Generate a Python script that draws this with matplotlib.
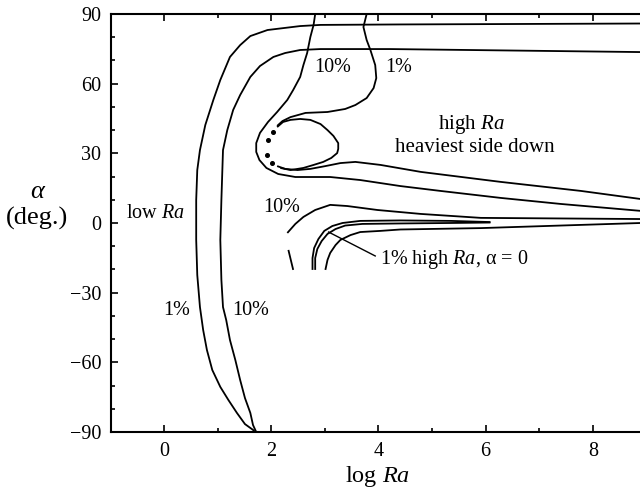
import matplotlib
matplotlib.use("Agg")
import matplotlib.pyplot as plt
from matplotlib.ticker import MultipleLocator

#Fuente tipo Times
plt.rcParams['font.family'] = ['Liberation Serif', 'DejaVu Serif']
plt.rcParams['mathtext.fontset'] = 'custom'
plt.rcParams['mathtext.rm'] = 'Liberation Serif'
plt.rcParams['mathtext.it'] = 'Liberation Serif:italic'

#Curvas (log Ra, alpha en grados)
low1_x = [1.70, 1.66, 1.51, 1.36, 1.20, 1.05, 0.90, 0.80, 0.73, 0.67, 0.62, 0.60, 0.60, 0.62,
          0.67, 0.77, 0.92, 1.05, 1.23, 1.42, 1.61, 1.93, 2.54, 2.92, 4.41, 8.90]
low1_y = [-90.0, -89.1, -86.6, -81.8, -76.2, -70.6, -63.3, -54.7, -46.1, -36.2, -22.4, -7.3, 9.9, 22.8,
          31.4, 42.2, 53.0, 61.6, 71.5, 76.6, 80.5, 83.1, 84.8, 85.3, 85.5, 85.9]

low10_x = [1.72, 1.66, 1.61, 1.51, 1.42, 1.33, 1.23, 1.16, 1.10, 1.07, 1.05, 1.07, 1.10, 1.18,
           1.29, 1.42, 1.61, 1.79, 2.04, 2.26, 2.54, 2.92, 4.22, 8.90]
low10_y = [-90.0, -87.0, -81.8, -75.4, -67.6, -59.0, -50.4, -41.8, -36.2, -24.5, -7.3, 9.9, 31.4, 40.0,
           48.7, 55.1, 62.9, 67.6, 71.5, 73.2, 74.5, 74.9, 74.9, 73.6]

#10%: baja desde arriba, rodea la gota y sigue a la derecha
s10_x = [2.82, 2.79, 2.73, 2.67, 2.60, 2.54, 2.41, 2.30, 2.11, 1.94, 1.79, 1.72, 1.72, 1.78,
         1.91, 2.13, 2.45, 3.10, 3.66, 4.41, 5.16, 6.28, 7.40, 8.90]
s10_y = [90.0, 85.3, 80.1, 73.2, 68.0, 62.9, 57.3, 53.0, 47.8, 43.5, 38.8, 34.4, 30.6, 27.1,
         23.7, 21.1, 19.8, 19.8, 18.5, 15.9, 13.8, 10.8, 8.2, 5.2]

#1%: baja desde arriba hasta la punta de la gota
s1_x = [3.78, 3.72, 3.78, 3.85, 3.94, 3.96, 3.91, 3.78, 3.57, 3.38, 3.05, 2.64, 2.36, 2.21, 2.11]
s1_y = [90.0, 84.4, 78.8, 74.5, 68.0, 62.4, 58.1, 53.8, 50.8, 49.1, 47.8, 47.4, 45.6, 43.9, 41.8]

drop_x = [2.11, 2.22, 2.36, 2.54, 2.73, 2.92, 3.05, 3.16, 3.25, 3.25, 3.23, 3.12, 2.97, 2.79,
          2.60, 2.36, 2.17]
drop_y = [41.3, 43.5, 44.4, 44.8, 44.4, 42.6, 40.0, 37.5, 34.4, 31.9, 30.1, 28.0, 26.3, 25.0,
          23.7, 22.8, 23.7]

dots_x = [2.04, 1.94, 1.93, 2.02]
dots_y = [39.2, 35.7, 29.3, 25.8]

lineA_x = [2.11, 2.26, 2.49, 2.73, 3.01, 3.29, 3.57, 4.04, 4.79, 6.28, 7.78, 8.90]
lineA_y = [24.5, 23.3, 22.8, 23.3, 24.5, 25.8, 26.3, 25.0, 22.0, 17.7, 13.8, 10.3]

#10% inferior
b10_x = [2.30, 2.45, 2.60, 2.82, 3.10, 3.42, 3.98, 4.79, 5.91, 8.90]
b10_y = [-4.3, -0.4, 2.6, 5.6, 7.8, 7.3, 5.6, 3.9, 2.2, 1.7]

#1% alto Ra, alpha = 0 (linea doble)
in1_x = [2.77, 2.77, 2.80, 2.88, 2.99, 3.14, 3.33, 3.66, 4.41, 5.35, 6.09]
in1_y = [-20.2, -15.1, -10.8, -6.9, -3.4, -1.3, 0.0, 0.9, 1.1, 0.9, 0.4]
in2_x = [2.82, 2.82, 2.86, 2.94, 3.05, 3.20, 3.38, 3.70, 4.41, 5.35, 6.09]
in2_y = [-20.2, -15.1, -11.2, -7.8, -4.7, -2.6, -1.1, -0.4, -0.2, 0.0, 0.2]

out1_x = [3.01, 3.05, 3.10, 3.20, 3.29, 3.48, 3.66, 4.04, 4.41, 5.91, 7.40, 8.90]
out1_y = [-20.2, -15.9, -12.9, -9.5, -7.3, -5.2, -3.9, -3.4, -2.8, -2.2, -1.1, 0.0]

short_x = [2.32, 2.41]
short_y = [-11.6, -20.2]

leader_x = [3.07, 3.94]
leader_y = [-3.9, -14.2]

#Grafico
fig = plt.figure(figsize=(6.4, 4.91), dpi=100)
ax = fig.add_axes([0.1734, 0.1202, 0.8266, 0.8513])

lw = 1.3
for cx, cy in [(low1_x, low1_y), (low10_x, low10_y), (s10_x, s10_y), (s1_x, s1_y),
               (drop_x, drop_y), (lineA_x, lineA_y), (b10_x, b10_y), (in1_x, in1_y),
               (in2_x, in2_y), (out1_x, out1_y), (short_x, short_y)]:
    ax.plot(cx, cy, color='black', lw=lw, solid_capstyle='butt')
ax.plot(leader_x, leader_y, color='black', lw=1.0)
ax.plot(dots_x, dots_y, 'o', color='black', ms=2.6)

#Textos
fs = 14.5
ax.text(-0.17, 4.3, 'low $Ra$', fontsize=fs, ha='center', va='center')
ax.text(0.24, -37.5, '1%', fontsize=fs, ha='center', va='center')
ax.text(1.61, -37.5, '10%', fontsize=fs, ha='center', va='center')
ax.text(3.15, 67, '10%', fontsize=fs, ha='center', va='center')
ax.text(4.37, 67, '1%', fontsize=fs, ha='center', va='center')
ax.text(2.19, 6.5, '10%', fontsize=fs, ha='center', va='center')
ax.text(5.74, 42.2, 'high $Ra$', fontsize=15, ha='center', va='center')
ax.text(5.79, 32.3, 'heaviest side down', fontsize=15, ha='center', va='center')
ax.text(4.03, -15.9, '1% high $Ra$, α = 0', fontsize=fs, ha='left', va='center')

#Ejes
ax.set_xlim(-0.99, 8.88)
ax.set_ylim(-90, 90)
ax.xaxis.set_major_locator(MultipleLocator(2))
ax.xaxis.set_minor_locator(MultipleLocator(1))
ax.yaxis.set_major_locator(MultipleLocator(30))
ax.yaxis.set_minor_locator(MultipleLocator(10))
ax.tick_params(which='both', direction='in', top=True, right=False, width=1.2, labelsize=14.5)
ax.tick_params(which='major', length=5, pad=7)
ax.tick_params(which='minor', length=3)
ax.spines['right'].set_visible(False)
for s in ['left', 'top', 'bottom']:
    ax.spines[s].set_linewidth(1.5)

fig.text(378 / 640, 1 - 482 / 491, 'log $Ra$', fontsize=17.5, ha='center', va='baseline')
fig.text(37 / 640, 1 - 192 / 491, 'α', fontsize=19, style='italic', ha='center', va='center')
fig.text(37 / 640, 1 - 218 / 491, '(deg.)', fontsize=19, ha='center', va='center')

fig.savefig('out.png', dpi=100)
